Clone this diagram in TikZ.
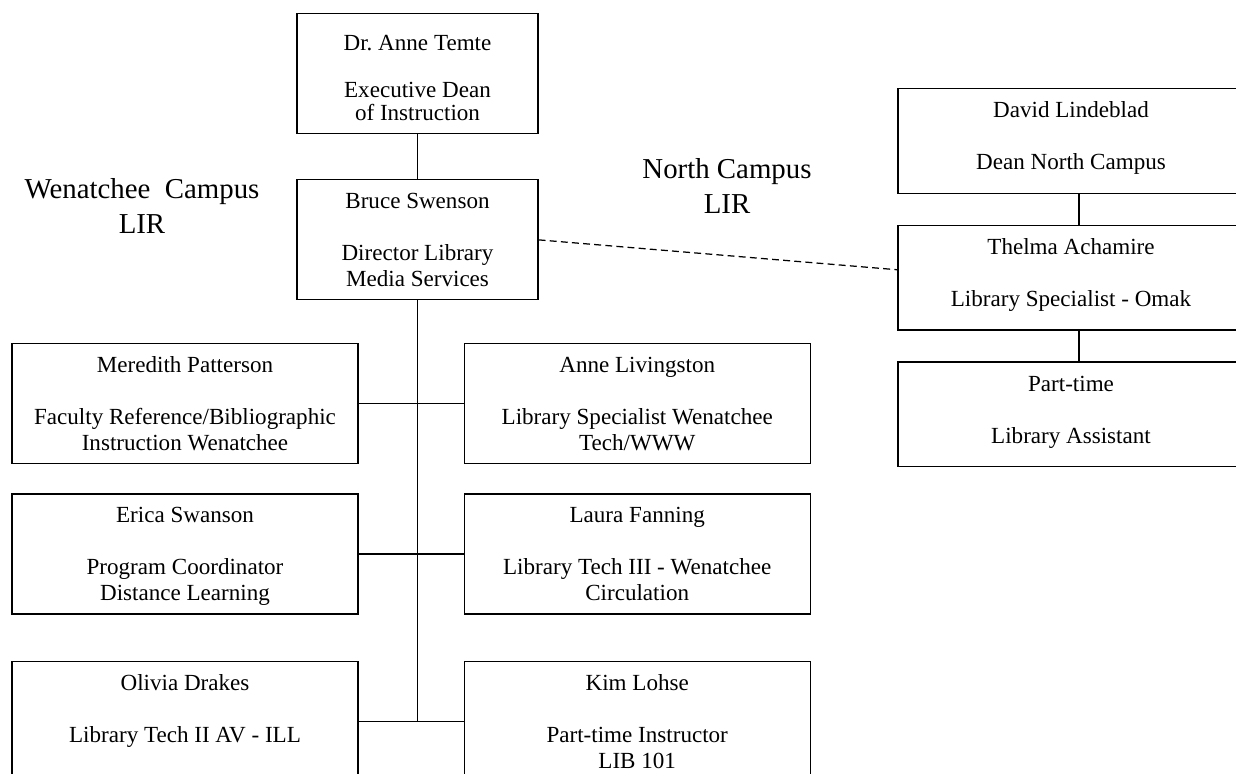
\documentclass[tikz,border=0pt]{standalone}
\usepackage{fontspec}
\setmainfont{Liberation Serif}
\usetikzlibrary{positioning}
\newcommand{\orgtext}[1]{\begin{tabular}[t]{@{}c@{}}#1\end{tabular}}

\begin{document}
\begin{tikzpicture}[x=0.52pt,y=-0.52pt,line width=0.65pt,
  orgbox/.style={draw,inner sep=0pt,anchor=north,font=\fontsize{12}{13.5}\selectfont,text height=15.1pt},
  topbox/.style={orgbox,minimum width=125.3pt,text depth=47.3pt},
  rowbox/.style={orgbox,minimum width=179.9pt,text depth=47.3pt},
  nbox/.style={orgbox,minimum width=179.9pt,text depth=39pt},
  campus/.style={align=center,anchor=base,font=\fontsize{15}{18.2}\selectfont},
  dashlink/.style={dash pattern=on 3.6pt off 2.2pt}]
  \path[use as bounding box,fill=white] (0,0) rectangle (1236,773);
  \clip (0,0) rectangle (1236,773);
  \node[topbox,font=\fontsize{12}{12.2}\selectfont,text height=19.2pt,text depth=43.2pt] (temte) at (417.5,13)
    {\orgtext{Dr.\ Anne Temte\\ \\Executive Dean\\of Instruction}};
  \node[topbox,below=23.4pt of temte] (bruce) {\orgtext{Bruce Swenson\\ \\Director Library\\Media Services}};
  \node[rowbox] (mer) at (185,343) {\orgtext{Meredith Patterson\\ \\Faculty Reference/Bibliographic\\Instruction Wenatchee}};
  \node[rowbox,right=54.6pt of mer] (liv) {\orgtext{Anne Livingston\\ \\Library Specialist Wenatchee\\Tech/WWW}};
  \node[rowbox,below=15.1pt of mer] (eri) {\orgtext{Erica Swanson\\ \\Program Coordinator\\Distance Learning}};
  \node[rowbox,right=54.6pt of eri] (lau) {\orgtext{Laura Fanning\\ \\Library Tech III - Wenatchee\\Circulation}};
  \node[rowbox,below=23.9pt of eri] (oli) {\orgtext{Olivia Drakes\\ \\Library Tech II AV - ILL}};
  \node[rowbox,right=54.6pt of oli] (kim) {\orgtext{Kim Lohse\\ \\Part-time Instructor\\LIB 101}};
  \node[nbox,text depth=39.5pt] (dav) at (1071,88) {\orgtext{David Lindeblad\\ \\Dean North Campus}};
  \node[nbox,below=16.1pt of dav] (the) {\orgtext{Thelma Achamire\\ \\Library Specialist - Omak}};
  \node[nbox,below=16.1pt of the] (ptime) {\orgtext{Part-time\\ \\Library Assistant}};
  \node[campus] (wen) at (142,233) {Wenatchee\ \ Campus\\LIR};
  \node[campus] (north) at (727,213) {North Campus\\LIR};
  \draw (temte) -- (bruce);
  \draw (bruce.south) -- (bruce.south |- oli.east);
  \draw (mer.east) -- (liv.west);
  \draw (eri.east) -- (lau.west);
  \draw (oli.east) -- (kim.west);
  \draw ([xshift=4.2pt]dav.south) -- ([xshift=4.2pt]the.north);
  \draw ([xshift=4.2pt]the.south) -- ([xshift=4.2pt]ptime.north);
  \draw[dashlink] (bruce.east) -- ([yshift=4.2pt]the.west);
\end{tikzpicture}
\end{document}
